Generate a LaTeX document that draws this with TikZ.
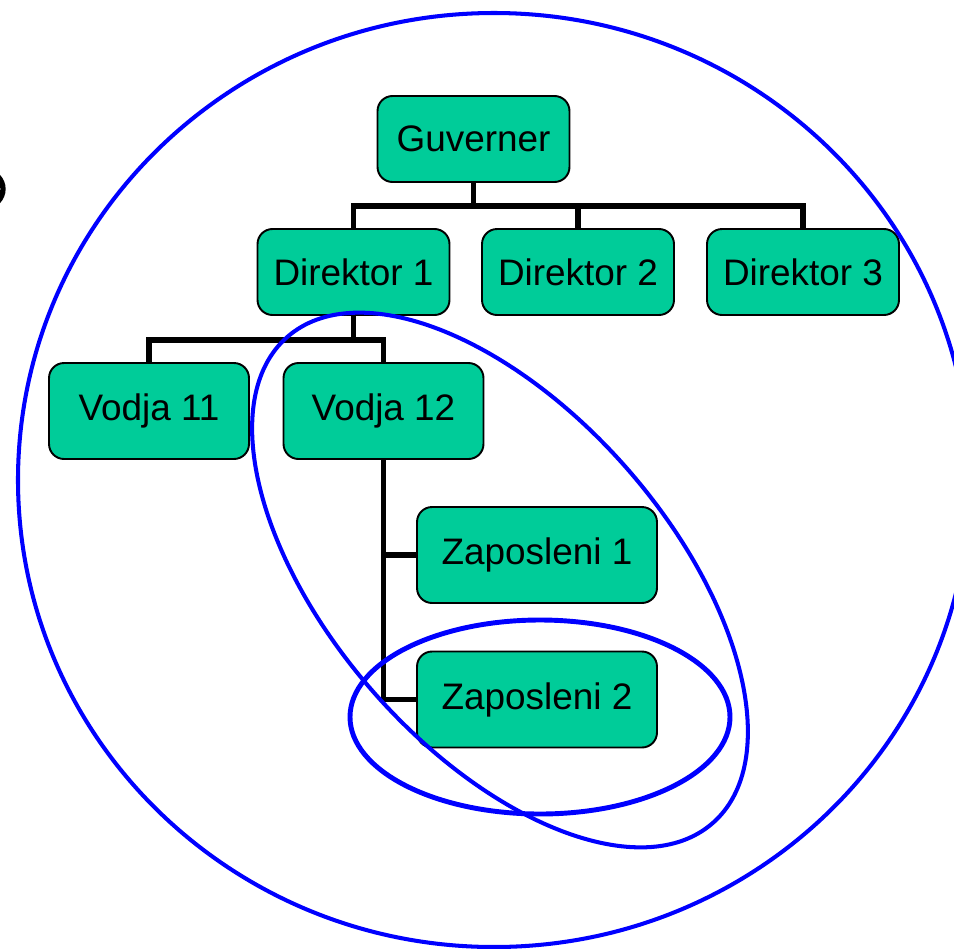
\documentclass[tikz,border=0pt]{standalone}
\usepackage{fontspec}
\setmainfont{Liberation Sans}
\definecolor{boxfill}{RGB}{0,204,153}
\definecolor{ringblue}{RGB}{0,0,255}
\tikzset{
  orgbox/.style={draw=black, line width=1.1pt, fill=boxfill, rounded corners=0.3cm,
    font=\fontsize{21}{24}\selectfont, inner sep=0pt, align=center},
  smallbox/.style={orgbox, minimum width=3.84cm, minimum height=1.72cm},
  bigbox/.style={orgbox, minimum width=4.0cm, minimum height=1.92cm},
  widebox/.style={orgbox, minimum width=4.8cm, minimum height=1.92cm},
  link/.style={draw=black, line width=3.2pt},
  ring/.style={draw=ringblue, line width=2.3pt},
}
\begin{document}
\begin{tikzpicture}[x=0.02cm, y=-0.02cm]
\useasboundingbox (0,0) rectangle (954,948);
\clip (0,0) rectangle (954,948);
\fill[white] (0,0) rectangle (954,948);

% boxes
\node[smallbox] (g)  at (473.5,139) {Guverner};
\node[smallbox] (d1) at (353.5,272) {Direktor 1};
\node[smallbox] (d2) at (578,272) {Direktor 2};
\node[smallbox] (d3) at (803,272) {Direktor 3};
\node[bigbox] (v11) at (149,411) {Vodja 11};
\node[bigbox] (v12) at (383.5,411) {Vodja 12};
\node[widebox] (z1) at (537,555) {Zaposleni 1};
\node[widebox] (z2) at (537,699.5) {Zaposleni 2};

% connectors
\coordinate (gb) at (473.5,206);
\coordinate (db) at (353.5,340);
\draw[link] (g.south) -- (gb);
\draw[link] (d1.north) |- (gb);
\draw[link] (gb) -| (d2.north);
\draw[link] (gb) -| (d3.north);
\draw[link] (d1.south) -- (db);
\draw[link] (db) -| (v11.north);
\draw[link] (db) -| (v12.north);
\draw[link] (v12.south) |- (z2.west);
\draw[link] (z1.west) -- (z1.west -| v12.south);

% rings
\draw[ring] (494,480) ellipse [x radius=476, y radius=467];
\draw[ring, shift={(500,580)}, rotate=-48.8] (0,0) ellipse [x radius=323, y radius=169];
\draw[ring, line width=2.8pt] (540,717) ellipse [x radius=190, y radius=97];

% partial black arc at left edge
\draw[black, line width=3pt] (-13,189) ellipse [x radius=16, y radius=17];
\end{tikzpicture}
\end{document}
